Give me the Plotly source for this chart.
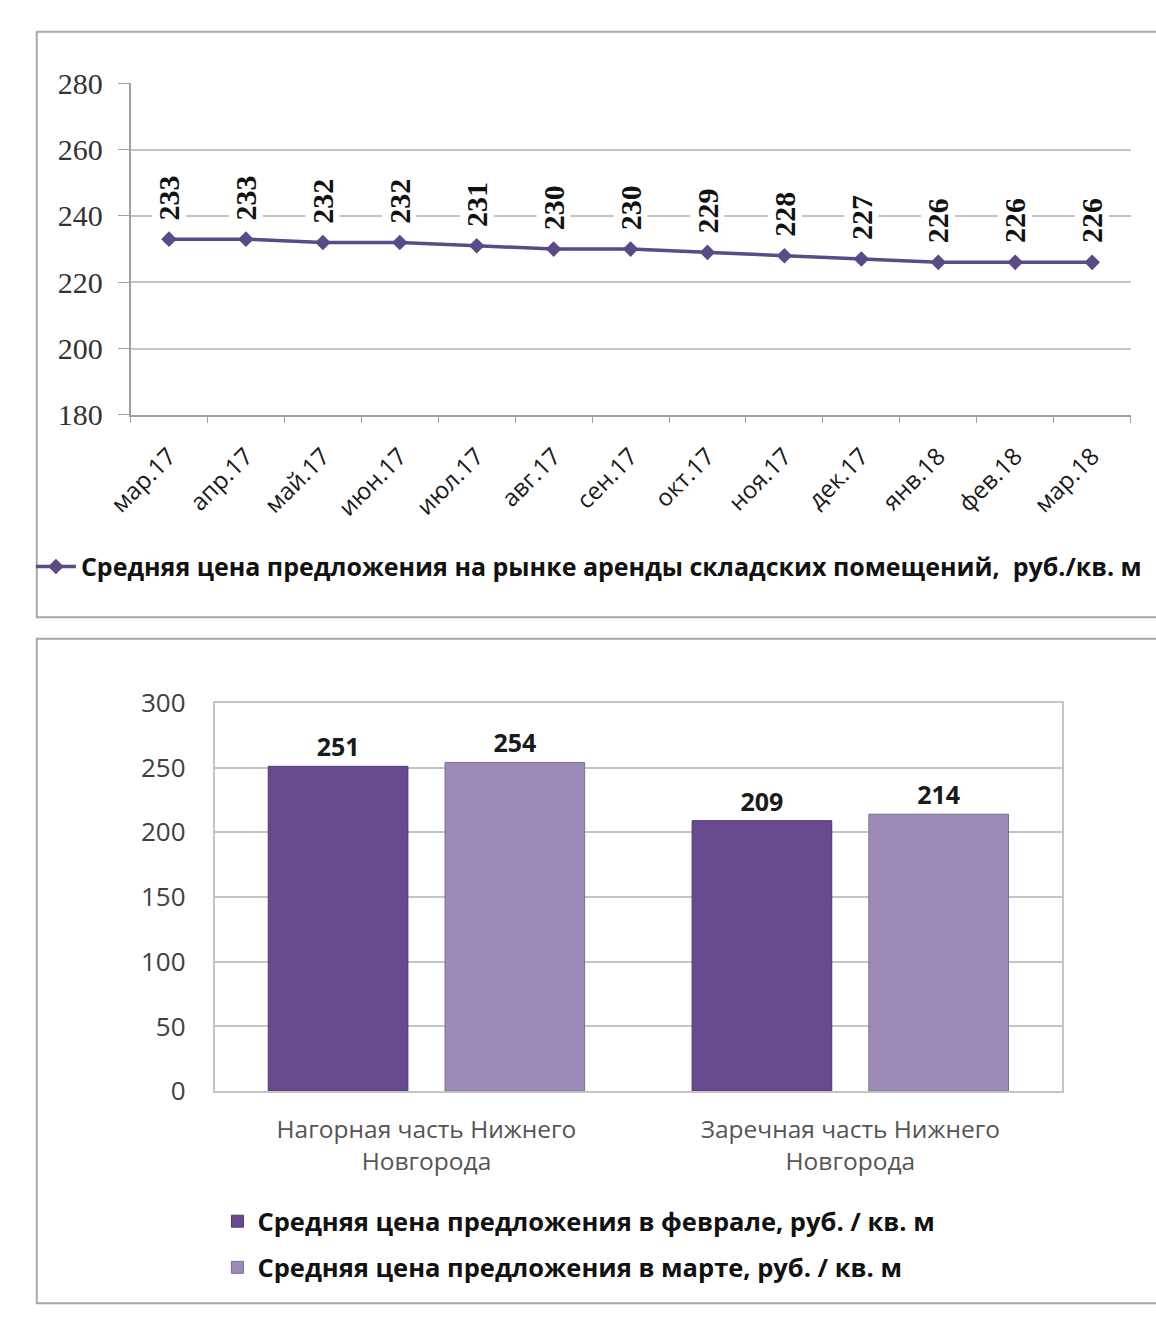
import plotly.graph_objects as go

# ---------------- data ----------------
months = ["мар.17", "апр.17", "май.17", "июн.17", "июл.17", "авг.17", "сен.17",
          "окт.17", "ноя.17", "дек.17", "янв.18", "фев.18", "мар.18"]
prices = [233, 233, 232, 232, 231, 230, 230, 229, 228, 227, 226, 226, 226]
line_name = "Средняя цена предложения на рынке аренды складских помещений,  руб./кв. м"

districts = ["Нагорная часть Нижнего<br>Новгорода", "Заречная часть Нижнего<br>Новгорода"]
feb_vals = [251, 209]
mar_vals = [254, 214]
feb_name = "Средняя цена предложения в феврале, руб. / кв. м"
mar_name = "Средняя цена предложения в марте, руб. / кв. м"

# ---------------- layout helpers ----------------
W, H = 1156, 1327
def px(x):
    return x / W
def py(y):
    return 1 - y / H

SANS = "Open Sans"
SERIF = "Liberation Serif"

fig = go.Figure()

fig.add_trace(go.Scatter(
    x=months, y=prices, mode="lines+markers", name=line_name,
    line=dict(color="#5a4a85", width=3.5),
    marker=dict(symbol="diamond", size=12, color="#5a4a85"),
    xaxis="x", yaxis="y", legend="legend", cliponaxis=False,
))

fig.add_trace(go.Bar(
    x=districts, y=feb_vals, name=feb_name,
    marker=dict(color="#674a90", line=dict(color="#4e3870", width=1)),
    text=feb_vals, textposition="outside", cliponaxis=False,
    texttemplate="<b>%{y}</b>",
    textfont=dict(family=SANS, size=25, color="#1a1a1a"),
    xaxis="x2", yaxis="y2", legend="legend2", legendgroup="a",
))
fig.add_trace(go.Bar(
    x=districts, y=mar_vals, name=mar_name,
    marker=dict(color="#9c8ab8", line=dict(color="#7d6d96", width=1)),
    text=mar_vals, textposition="outside", cliponaxis=False,
    texttemplate="<b>%{y}</b>",
    textfont=dict(family=SANS, size=25, color="#1a1a1a"),
    xaxis="x2", yaxis="y2", legend="legend2", legendgroup="b",
))

annotations = []
for m, p in zip(months, prices):
    annotations.append(dict(
        x=m, y=p, xref="x", yref="y", text="<b>%d</b>" % p, textangle=-90,
        showarrow=False, yanchor="bottom", xanchor="center", yshift=18,
        bgcolor="white", borderpad=0,
        font=dict(family=SERIF, size=30, color="#111111"),
    ))

shapes = [
    dict(type="rect", xref="paper", yref="paper", x0=px(10), x1=px(1170),
         y0=py(615), y1=py(13), line=dict(color="#a8a8a8", width=2), layer="below"),
    dict(type="rect", xref="paper", yref="paper", x0=px(10), x1=px(1170),
         y0=py(1320), y1=py(637), line=dict(color="#a8a8a8", width=2), layer="below"),
]

fig.update_layout(
    width=W, height=H, margin=dict(l=0, r=0, t=0, b=0),
    paper_bgcolor="white", plot_bgcolor="white",
    showlegend=True,
    barmode="group", bargap=0.166, bargroupgap=0.21,
    xaxis=dict(domain=[px(106), px(1130)], type="category", range=[-0.5, 12.5],
               tickangle=-45, tickfont=dict(family=SANS, size=24, color="#1a1a1a"),
               showline=True, linecolor="#a0a0a0", linewidth=1.5,
               ticks="outside", ticklen=6, tickcolor="#a0a0a0", tickson="boundaries",
               showgrid=False, anchor="y", fixedrange=True, ticklabelstandoff=16),
    yaxis=dict(domain=[py(407), py(66)], range=[180, 280], dtick=20,
               tickfont=dict(family=SERIF, size=30, color="#333333"),
               showline=True, linecolor="#a0a0a0", linewidth=1.5,
               ticks="outside", ticklen=11, tickcolor="#a0a0a0",
               showgrid=True, gridcolor="#c4c4c4", gridwidth=1.5,
               zeroline=False, anchor="x", ticklabelstandoff=9),
    xaxis2=dict(domain=[px(192), px(1060)], type="category",
                tickfont=dict(family=SANS, size=24.5, color="#555555"),
                showline=True, linecolor="#c4c4c4", linewidth=1.5, mirror=True,
                ticks="", showgrid=False, anchor="y2", ticklabelstandoff=16),
    yaxis2=dict(domain=[py(1102), py(703)], range=[0, 300], dtick=50,
                tickfont=dict(family=SANS, size=26, color="#404040"),
                showline=True, linecolor="#c4c4c4", linewidth=1.5, mirror=True,
                ticks="", showgrid=True, gridcolor="#c4c4c4", gridwidth=1.5,
                zeroline=False, anchor="x2", ticklabelstandoff=22),
    legend=dict(x=px(4), y=py(563), xanchor="left", yanchor="middle",
                orientation="h",
                font=dict(family=SANS, size=25, color="#111111", weight="bold"),
                bgcolor="rgba(0,0,0,0)", itemwidth=40),
    legend2=dict(x=px(195), y=py(1212), xanchor="left", yanchor="top",
                 orientation="v",
                 font=dict(family=SANS, size=25.5, color="#111111", weight="bold"),
                 bgcolor="rgba(0,0,0,0)", tracegroupgap=10, itemwidth=30),
    annotations=annotations,
    shapes=shapes,
)

fig.write_html("out.html", config={"displayModeBar": False},
               post_script="document.body.style.margin='0px';")
